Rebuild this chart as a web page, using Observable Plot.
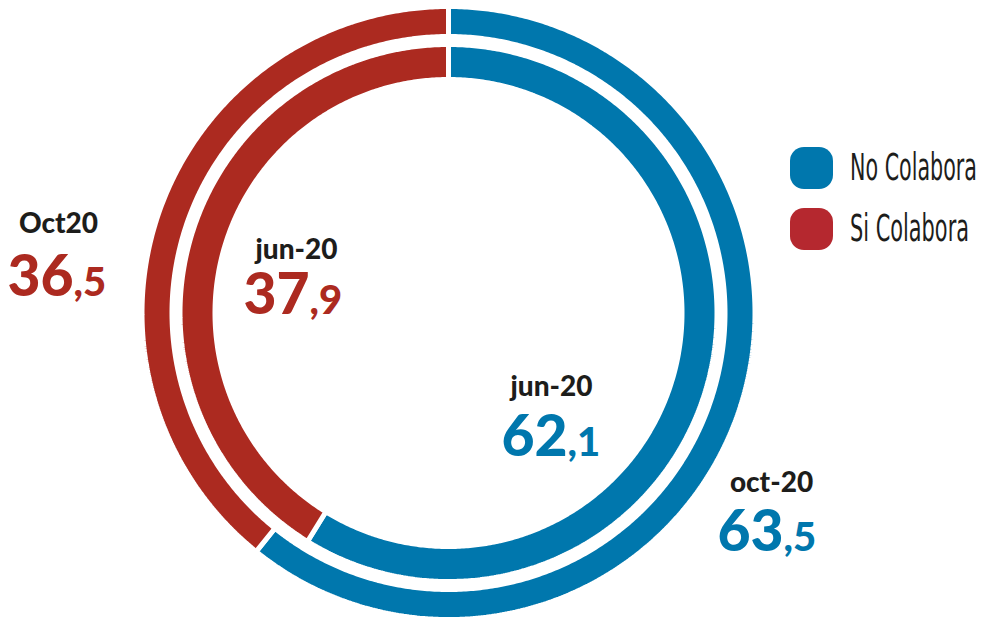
<!DOCTYPE html>
<html><head><meta charset="utf-8">
<script src="https://cdn.jsdelivr.net/npm/d3@7"></script>
<script src="https://cdn.jsdelivr.net/npm/@observablehq/plot@0.6"></script>
<style>
body{margin:0;background:#fff;}
#chart{position:relative;width:984px;height:618px;overflow:hidden;}
#legend{position:absolute;left:790px;top:147px;}
.item{display:flex;align-items:center;height:42px;margin-bottom:19px;}
.sw{width:43px;height:42px;border-radius:14px;flex:none;}
.lab{margin-left:17px;font-family:"DejaVu Sans Condensed","DejaVu Sans",sans-serif;font-size:37px;color:#1d1d1b;white-space:nowrap;transform-origin:left center;display:inline-block;line-height:42px;}
</style></head><body><div id="chart"><div id="legend"></div></div>
<script>
// ---- data ----
const categories = ["No Colabora", "Si Colabora"];
const rings = ["oct-20", "jun-20"];
// printed values
const noColabora = [63.5, 62.1];
const siColabora = [36.5, 37.9];
// arc shares as drawn in the picture (%, measured from the arc boundaries)
const arcNoColabora = [60.8, 58.8];
const arcSiColabora = [39.2, 41.2];
const labelsNo = ["oct-20", "jun-20"];
const labelsSi = ["Oct20", "jun-20"];

// ---- style / layout ----
const colors = ["#0077AD", "#AC2A20"];
const legendColors = ["#0077AD", "#B5282F"];
const W = 984, H = 618, CX = 448.5, CY = 313;
const ringRadii = {"oct-20": [276.5, 306.5], "jun-20": [233.5, 268.5]};
// label anchors in pixels: [titleX, titleBaseline, splitX, numberBaseline]
const labelLayout = {
  "oct-20|No Colabora": [771, 491, 783, 550],
  "jun-20|No Colabora": [551, 395, 567, 455],
  "oct-20|Si Colabora": [58, 232, 73, 295],
  "jun-20|Si Colabora": [296, 258, 309, 313]
};

// ---- build sector outlines ----
const sectors = [];
const labels = [];
rings.forEach((ring, i) => {
  const arcs = [arcNoColabora[i], arcSiColabora[i]];
  const vals = [noColabora[i], siColabora[i]];
  const texts = [labelsNo[i], labelsSi[i]];
  const total = d3.sum(arcs);
  let start = 0;
  arcs.forEach((v, j) => {
    const a0 = start / total * 2 * Math.PI;
    const a1 = (start + v) / total * 2 * Math.PI;
    start += v;
    const [r0, r1] = ringRadii[ring];
    const n = Math.max(2, Math.ceil((a1 - a0) / (Math.PI / 360)));
    for (let k = 0; k <= n; k++) {
      const t = a0 + (a1 - a0) * k / n;
      sectors.push({key: ring + j, category: categories[j],
        x1: r0 * Math.sin(t), y1: r0 * Math.cos(t),
        x2: r1 * Math.sin(t), y2: r1 * Math.cos(t)});
    }
    const L = labelLayout[ring + "|" + categories[j]];
    const s = vals[j].toFixed(1).split(".");
    labels.push({category: categories[j], title: texts[j], intPart: s[0], decPart: "," + s[1],
      tx: L[0] - CX, ty: CY - L[1], sx: L[2] - CX, sy: CY - L[3]});
  });
});

const chart = Plot.plot({
  width: W, height: H, margin: 0,
  style: {fontFamily: "Lato, 'Open Sans', sans-serif", background: "#fff"},
  x: {axis: null, domain: [-CX, W - CX]},
  y: {axis: null, domain: [CY - H, CY]},
  color: {domain: categories, range: colors},
  marks: [
    Plot.area(sectors, {x1: "x1", y1: "y1", x2: "x2", y2: "y2", z: "key", fill: "category",
      stroke: "white", strokeWidth: 5, strokeLinejoin: "miter", curve: "linear"}),
    Plot.text(labels, {x: "tx", y: "ty", text: "title", fill: "#1d1d1b", fontSize: 28,
      fontWeight: 900, textAnchor: "middle", lineAnchor: "bottom"}),
    Plot.text(labels, {x: "sx", y: "sy", text: "intPart", fill: "category", fontSize: 57,
      fontWeight: 900, textAnchor: "end", lineAnchor: "bottom"}),
    Plot.text(labels, {x: "sx", y: "sy", text: "decPart", fill: "category", fontSize: 40,
      fontWeight: 900, textAnchor: "start", lineAnchor: "bottom"})
  ]
});
document.getElementById("chart").prepend(chart);

// ---- legend ----
const legend = document.getElementById("legend");
const targetW = [127, 119];
categories.forEach((c, i) => {
  const item = document.createElement("div");
  item.className = "item";
  const sw = document.createElement("div");
  sw.className = "sw"; sw.style.background = legendColors[i];
  const lab = document.createElement("span");
  lab.className = "lab"; lab.textContent = c;
  item.append(sw, lab);
  legend.append(item);
  const w = lab.getBoundingClientRect().width;
  lab.style.transform = `scaleX(${targetW[i] / w})`;
});
</script></body></html>
